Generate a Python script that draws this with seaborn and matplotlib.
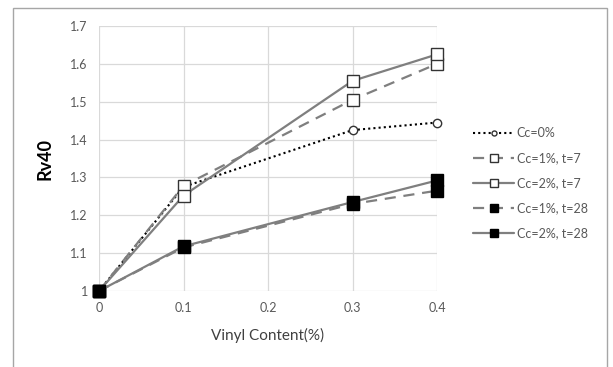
import matplotlib
matplotlib.use("Agg")
import matplotlib.pyplot as plt
import seaborn as sns
import pandas as pd
from matplotlib.patches import Rectangle

vinyl = [0, 0.1, 0.3, 0.4]
cc0 = [1.0, 1.275, 1.425, 1.445]
cc1_t7 = [1.0, 1.278, 1.505, 1.600]
cc2_t7 = [1.0, 1.252, 1.555, 1.625]
cc1_t28 = [1.0, 1.115, 1.230, 1.265]
cc2_t28 = [1.0, 1.118, 1.235, 1.292]
labels = ["Cc=0%", "Cc=1%, t=7", "Cc=2%, t=7", "Cc=1%, t=28", "Cc=2%, t=28"]

sns.set_theme(style="white")
plt.rcParams['font.family'] = ['Lato', 'DejaVu Sans']

fig = plt.figure(figsize=(6.13, 3.67), dpi=100)
ax = fig.add_axes([99/613, 1-291/367, (437-99)/613, (291-26)/367])

# outer frame
fig.patches.append(Rectangle((13/613, -0.05), (607-13)/613, 1.05 - 8/367,
                             transform=fig.transFigure, fill=False,
                             edgecolor="#a6a6a6", linewidth=1.0))

line_gray = "#7f7f7f"
series = [
    (cc0, dict(color="black", linestyle=(0, (1, 1.5)), linewidth=1.5, marker="o",
               markersize=6, markerfacecolor="white", markeredgecolor="#333333", markeredgewidth=1.0)),
    (cc1_t7, dict(color=line_gray, linestyle=(0, (5, 3.5)), linewidth=1.6, marker="s",
                  markersize=8.5, markerfacecolor="white", markeredgecolor="#333333", markeredgewidth=1.0)),
    (cc2_t7, dict(color=line_gray, linestyle="-", linewidth=1.6, marker="s",
                  markersize=8.5, markerfacecolor="white", markeredgecolor="#333333", markeredgewidth=1.0)),
    (cc1_t28, dict(color=line_gray, linestyle=(0, (5, 3.5)), linewidth=1.6, marker="s",
                   markersize=8.5, markerfacecolor="black", markeredgecolor="black", markeredgewidth=1.0)),
    (cc2_t28, dict(color=line_gray, linestyle="-", linewidth=1.6, marker="s",
                   markersize=8.5, markerfacecolor="black", markeredgecolor="black", markeredgewidth=1.0)),
]

for (vals, kw), lab in zip(series, labels):
    df = pd.DataFrame({"x": vinyl, "y": vals})
    sns.lineplot(data=df, x="x", y="y", ax=ax, label=lab, **kw)

ax.set_xlim(0, 0.4)
ax.set_ylim(1.0, 1.7)
ax.set_xticks([0, 0.1, 0.2, 0.3, 0.4])
ax.set_xticklabels(["0", "0.1", "0.2", "0.3", "0.4"])
ax.set_yticks([1.0, 1.1, 1.2, 1.3, 1.4, 1.5, 1.6, 1.7])
ax.set_yticklabels(["1", "1.1", "1.2", "1.3", "1.4", "1.5", "1.6", "1.7"])
ax.tick_params(axis="both", labelsize=9, colors="#595959", length=0, pad=8)
ax.grid(True, color="#d9d9d9", linewidth=0.9)
ax.set_axisbelow(True)
for s in ax.spines.values():
    s.set_visible(False)
for ln in ax.lines:
    ln.set_clip_on(False)

ax.set_xlabel("Vinyl Content(%)", fontsize=11, color="#404040", labelpad=10)
ax.set_ylabel("Rv40", fontsize=13, fontweight="bold", color="black", labelpad=12)

h, l = ax.get_legend_handles_labels()
leg = ax.legend(h, l, loc="upper left", bbox_to_anchor=(468/613, 1-122/367),
                bbox_transform=fig.transFigure, frameon=False, fontsize=9,
                labelspacing=1.05, handlelength=3.3, handletextpad=0.2,
                markerscale=0.6, borderaxespad=0)
for t in leg.get_texts():
    t.set_color("#595959")

fig.savefig("out.png", dpi=100)
